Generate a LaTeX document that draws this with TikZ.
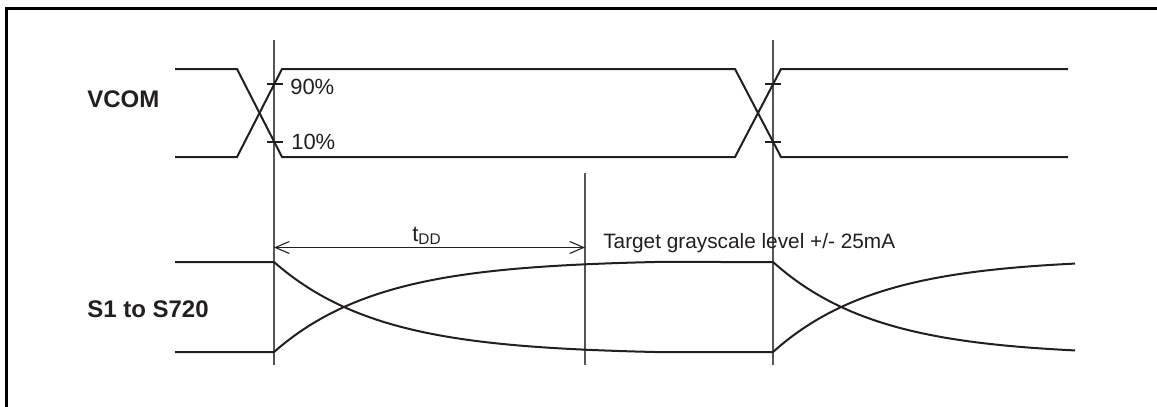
\documentclass[tikz,border=0pt]{standalone}
\usepackage{fontspec}
\setmainfont{Liberation Sans}
\usetikzlibrary{arrows.meta}
\definecolor{ink}{HTML}{231F20}
\definecolor{guide}{HTML}{555555}
\begin{document}
\begin{tikzpicture}[x=0.75pt,y=-0.75pt,
  sig/.style={draw=ink,line width=1.5pt,line join=miter},
  guideline/.style={draw=guide,line width=0.9pt},
  tickmark/.style={draw=ink,line width=0.8pt},
  lbl/.style={font=\fontsize{18}{20}\selectfont\bfseries,text=ink,inner sep=0pt,anchor=base west},
  txt/.style={font=\fontsize{16.5}{18}\selectfont,text=ink,inner sep=0pt,anchor=base west},
  dim/.style={draw=ink,line width=0.8pt,{Straight Barb[length=10.5pt,width=9pt]}-{Straight Barb[length=10.5pt,width=9pt]}}]
\useasboundingbox (0,0) rectangle (1157,407);
\begin{scope}
\clip (0,0) rectangle (1157,407);
\draw[line width=2.25pt,black] (6,460) |- (1220,8);
\end{scope}
% guide lines
\draw[guideline] (274,40) -- (274,365);
\draw[guideline] (773,40) -- (773,365);
\draw[guideline] (585,173) -- (585,365);
% VCOM
\draw[sig] (175,69) -- (237,69) -- (282,157) -- (735,157) -- (781,69) -- (1068,69);
\draw[sig] (175,157) -- (237,157) -- (282,69) -- (735,69) -- (781,157) -- (1068,157);
\draw[tickmark] (267,84) -- (283,84);
\draw[tickmark] (267,142) -- (283,142);
\draw[tickmark] (765,84) -- (781,84);
\draw[tickmark] (765,142) -- (781,142);
\node[txt] (p90) at (290,94) {90\%};
\node[txt] (p10) at (291,149) {10\%};
\node[lbl] (vcom) at (87,107) {VCOM};
% S1 to S720
\draw[sig] (175,262) -- (274,262) plot[domain=274:655,samples=90] (\x,{262+90*(1-exp(-(\x-274)/105))/0.9734}) -- (773,352)
  plot[domain=773:1075,samples=90] (\x,{352-90*(1-exp(-(\x-773)/104))/0.962});
\draw[sig] (175,352) -- (274,352) plot[domain=274:655,samples=90] (\x,{352-90*(1-exp(-(\x-274)/105))/0.9734}) -- (773,262)
  plot[domain=773:1075,samples=90] (\x,{262+90*(1-exp(-(\x-773)/104))/0.962});
\node[lbl] (s1) at (87,317) {S1 to S720};
% tDD
\coordinate (da) at (274,247.5);
\coordinate (db) at (585,247.5);
\draw[dim] (da) -- (db);
\node[txt] (tdd) at (412,241.5) {t\textsubscript{DD}};
\node[txt,font=\fontsize{15.6}{18}\selectfont] (target) at (603,248) {Target grayscale level +/- 25mA};
\end{tikzpicture}
\end{document}
